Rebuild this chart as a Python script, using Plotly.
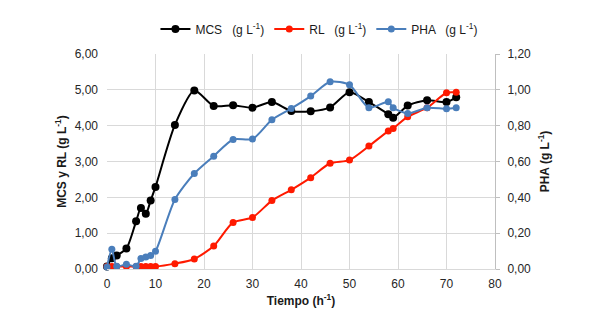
import plotly.graph_objects as go

tiempo = [0, 1, 2, 4, 6, 7, 8, 9, 10, 14, 18, 22, 26, 30, 34, 38, 42, 46, 50, 54, 58, 59, 62, 66, 70, 72]
mcs = [0.07, 0.30, 0.38, 0.57, 1.33, 1.70, 1.54, 1.91, 2.29, 4.02, 4.98, 4.55, 4.57, 4.50, 4.66, 4.41,
       4.40, 4.51, 4.93, 4.66, 4.32, 4.22, 4.56, 4.71, 4.66, 4.79]
rl = [0.07, 0.07, 0.07, 0.07, 0.07, 0.07, 0.07, 0.07, 0.07, 0.15, 0.28, 0.64, 1.30, 1.44, 1.91, 2.21,
      2.55, 2.95, 3.04, 3.43, 3.85, 3.92, 4.25, 4.50, 4.92, 4.93]
pha = [0.011, 0.110, 0.015, 0.026, 0.015, 0.058, 0.067, 0.076, 0.099, 0.388, 0.533, 0.630, 0.723, 0.725,
       0.833, 0.896, 0.965, 1.045, 1.028, 0.900, 0.933, 0.900, 0.868, 0.900, 0.894, 0.900]

series_names = ["MCS   (g L<sup>-1</sup>)", "RL   (g L<sup>-1</sup>)", "PHA   (g L<sup>-1</sup>)"]

fig = go.Figure()
fig.add_trace(go.Scatter(x=tiempo, y=mcs, name=series_names[0], mode="lines+markers", cliponaxis=False,
                         line=dict(color="#000000", width=2, shape="spline", smoothing=0.7),
                         marker=dict(color="#000000", size=8)))
fig.add_trace(go.Scatter(x=tiempo, y=rl, name=series_names[1], mode="lines+markers", cliponaxis=False,
                         line=dict(color="#ff1a00", width=2, shape="spline", smoothing=0.7),
                         marker=dict(color="#ff1a00", size=7)))
fig.add_trace(go.Scatter(x=tiempo, y=pha, name=series_names[2], mode="lines+markers", yaxis="y2",
                         cliponaxis=False,
                         line=dict(color="#4a7ebb", width=2, shape="spline", smoothing=0.7),
                         marker=dict(color="#4a7ebb", size=7)))

font = dict(family="Liberation Sans, Arial, sans-serif", size=12, color="#262626")
fig.update_layout(
    width=598, height=326,
    margin=dict(l=99, r=111, t=46, b=65, autoexpand=False),
    paper_bgcolor="white", plot_bgcolor="white",
    separators=",.",
    font=font,
    showlegend=True,
    legend=dict(orientation="h", x=0.52, xanchor="center", xref="container",
                y=1 - 21 / 326, yanchor="middle", yref="container",
                font=dict(size=12, color="#1a1a1a"), itemwidth=30,
                bgcolor="rgba(0,0,0,0)"),
    xaxis=dict(range=[0, 80], tickvals=[0, 10, 20, 30, 40, 50, 60, 70, 80], automargin=False,
               showgrid=True, gridcolor="#d9d9d9", gridwidth=1, zeroline=False,
               showline=True, linecolor="#d9d9d9", ticks="", ticklabelstandoff=4,
               title=dict(text="<b>Tiempo (h<sup>-1</sup>)</b>", font=dict(size=12, color="#1a1a1a"), standoff=6)),
    yaxis=dict(range=[0, 6], dtick=1, tickformat=".2f", showgrid=True, gridcolor="#d9d9d9", automargin=False,
               zeroline=False, showline=False, ticks="", ticklabelstandoff=8,
               title=dict(text="<b>MCS y RL (g L<sup>-1</sup>)</b>", font=dict(size=12, color="#1a1a1a"), standoff=5)),
    yaxis2=dict(range=[0, 1.2], dtick=0.2, tickformat=".2f", overlaying="y", side="right", automargin=False,
                showgrid=False, zeroline=False, showline=True, linecolor="#bfbfbf",
                ticks="outside", ticklen=4, tickcolor="#bfbfbf", ticklabelstandoff=5,
                title=dict(text="<b>PHA (g L<sup>-1</sup>)</b>", font=dict(size=12, color="#1a1a1a"), standoff=10)),
)

fig.write_html("out.html")
